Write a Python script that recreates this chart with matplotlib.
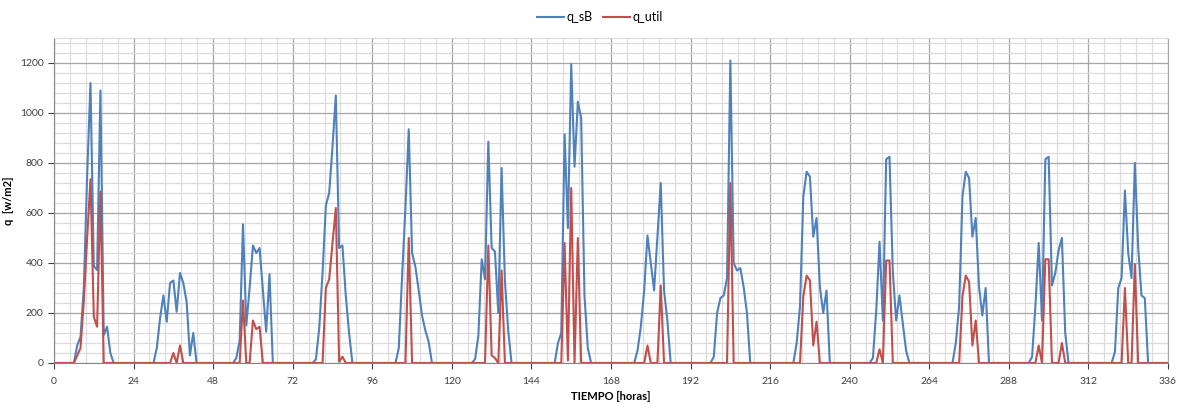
import numpy as np
import matplotlib
matplotlib.use("Agg")
import matplotlib.pyplot as plt
from matplotlib.ticker import MultipleLocator

plt.rcParams['font.family'] = ['Lato', 'DejaVu Sans']

# hora de inicio de cada tramo diurno (antes y despues todo es 0)
inicio = [6, 30, 54, 78, 103, 126, 151, 175, 198, 223, 246, 271, 294, 319]

# q_sB [w/m2] por hora desde la hora de inicio
q_sB_dias = [
    [0, 70, 105, 300, 750, 1120, 388, 372, 1090, 112, 145, 40, 0],
    [0, 60, 180, 270, 165, 320, 330, 205, 360, 320, 245, 30, 120, 0],
    [0, 20, 90, 555, 150, 300, 470, 440, 460, 290, 125, 355, 0],
    [0, 15, 140, 360, 630, 680, 865, 1070, 460, 470, 270, 120, 0],
    [0, 60, 350, 620, 935, 440, 385, 290, 190, 130, 85, 0],
    [0, 15, 110, 415, 335, 885, 460, 445, 200, 780, 330, 130, 0],
    [0, 80, 120, 915, 540, 1195, 785, 1045, 980, 270, 60, 0],
    [0, 50, 145, 290, 510, 400, 290, 505, 720, 290, 170, 0],
    [0, 25, 200, 260, 270, 340, 1210, 400, 370, 380, 305, 200, 0],
    [0, 80, 225, 665, 765, 745, 505, 580, 305, 200, 290, 0],
    [0, 20, 210, 485, 170, 815, 825, 365, 170, 270, 160, 50, 0],
    [0, 80, 225, 665, 765, 740, 505, 580, 305, 190, 300, 0],
    [0, 25, 225, 480, 170, 815, 825, 310, 360, 450, 500, 120, 0],
    [0, 45, 300, 340, 690, 440, 340, 800, 465, 270, 260, 0],
]

# q_util [w/m2] por hora desde la hora de inicio
q_util_dias = [
    [0, 30, 60, 250, 500, 735, 185, 145, 685, 0, 0, 0, 0],
    [0, 0, 0, 0, 0, 0, 40, 0, 70, 0, 0, 0, 0, 0],
    [0, 0, 0, 250, 0, 0, 170, 135, 145, 0, 0, 0, 0],
    [0, 0, 0, 0, 300, 335, 480, 620, 5, 25, 0, 0, 0],
    [0, 0, 0, 0, 500, 0, 0, 0, 0, 0, 0, 0],
    [0, 0, 0, 0, 0, 470, 30, 20, 0, 370, 0, 0, 0],
    [0, 0, 0, 480, 10, 700, 0, 500, 0, 0, 0, 0],
    [0, 0, 0, 0, 70, 0, 0, 0, 310, 0, 0, 0],
    [0, 0, 0, 0, 0, 0, 720, 0, 0, 0, 0, 0, 0],
    [0, 0, 0, 265, 350, 330, 70, 165, 0, 0, 0, 0],
    [0, 0, 0, 55, 0, 410, 410, 0, 0, 0, 0, 0, 0],
    [0, 0, 0, 265, 350, 325, 70, 170, 0, 0, 0, 0],
    [0, 0, 0, 70, 0, 415, 415, 0, 0, 0, 80, 0, 0],
    [0, 0, 0, 0, 300, 0, 0, 395, 0, 0, 0, 0],
]

horas = np.arange(0, 337)
q_sB = np.zeros(len(horas))
q_util = np.zeros(len(horas))
for h0, vb, vr in zip(inicio, q_sB_dias, q_util_dias):
    q_sB[h0:h0 + len(vb)] = vb
    q_util[h0:h0 + len(vr)] = vr

fig = plt.figure(figsize=(11.88, 4.04), dpi=100)
ax = fig.add_axes([54 / 1188, 1 - 363 / 404, (1168 - 54) / 1188, (363 - 38) / 404])

ax.plot(horas, q_sB, color='#4F81BD', lw=1.5, label='q_sB', zorder=3)
ax.plot(horas, q_util, color='#C0504D', lw=1.5, label='q_util', zorder=4)

ax.set_xlim(0, 336)
ax.set_ylim(0, 1300)
ax.xaxis.set_major_locator(MultipleLocator(24))
ax.xaxis.set_minor_locator(MultipleLocator(4.8))
ax.set_yticks(np.arange(0, 1201, 200))
ax.yaxis.set_minor_locator(MultipleLocator(40))

ax.grid(which='major', color='#A6A6A6', lw=0.9, zorder=1)
ax.grid(which='minor', color='#DCDCDC', lw=0.9, zorder=0)
ax.set_axisbelow(True)

ax.tick_params(which='major', labelsize=7.5, colors='#404040', length=4, width=0.8)
ax.tick_params(which='minor', length=0)
ax.tick_params(axis='x', pad=6)

for s in ['left', 'bottom']:
    ax.spines[s].set_color('#868686')
ax.spines['right'].set_color('#A6A6A6')
ax.spines['top'].set_color('#D9D9D9')

ax.set_xlabel('TIEMPO [horas]', fontsize=8, fontweight='bold', labelpad=4)
ax.set_ylabel('q  [w/m2]', fontsize=8, fontweight='bold')
ax.yaxis.set_label_coords(-0.036, 0.5)

fig.legend(loc='upper center', bbox_to_anchor=(0.505, 1.0), ncol=2, frameon=False,
           fontsize=9, handlelength=2.2, handletextpad=0.2, columnspacing=0.8)

fig.savefig('out.png', dpi=100, facecolor='white')
